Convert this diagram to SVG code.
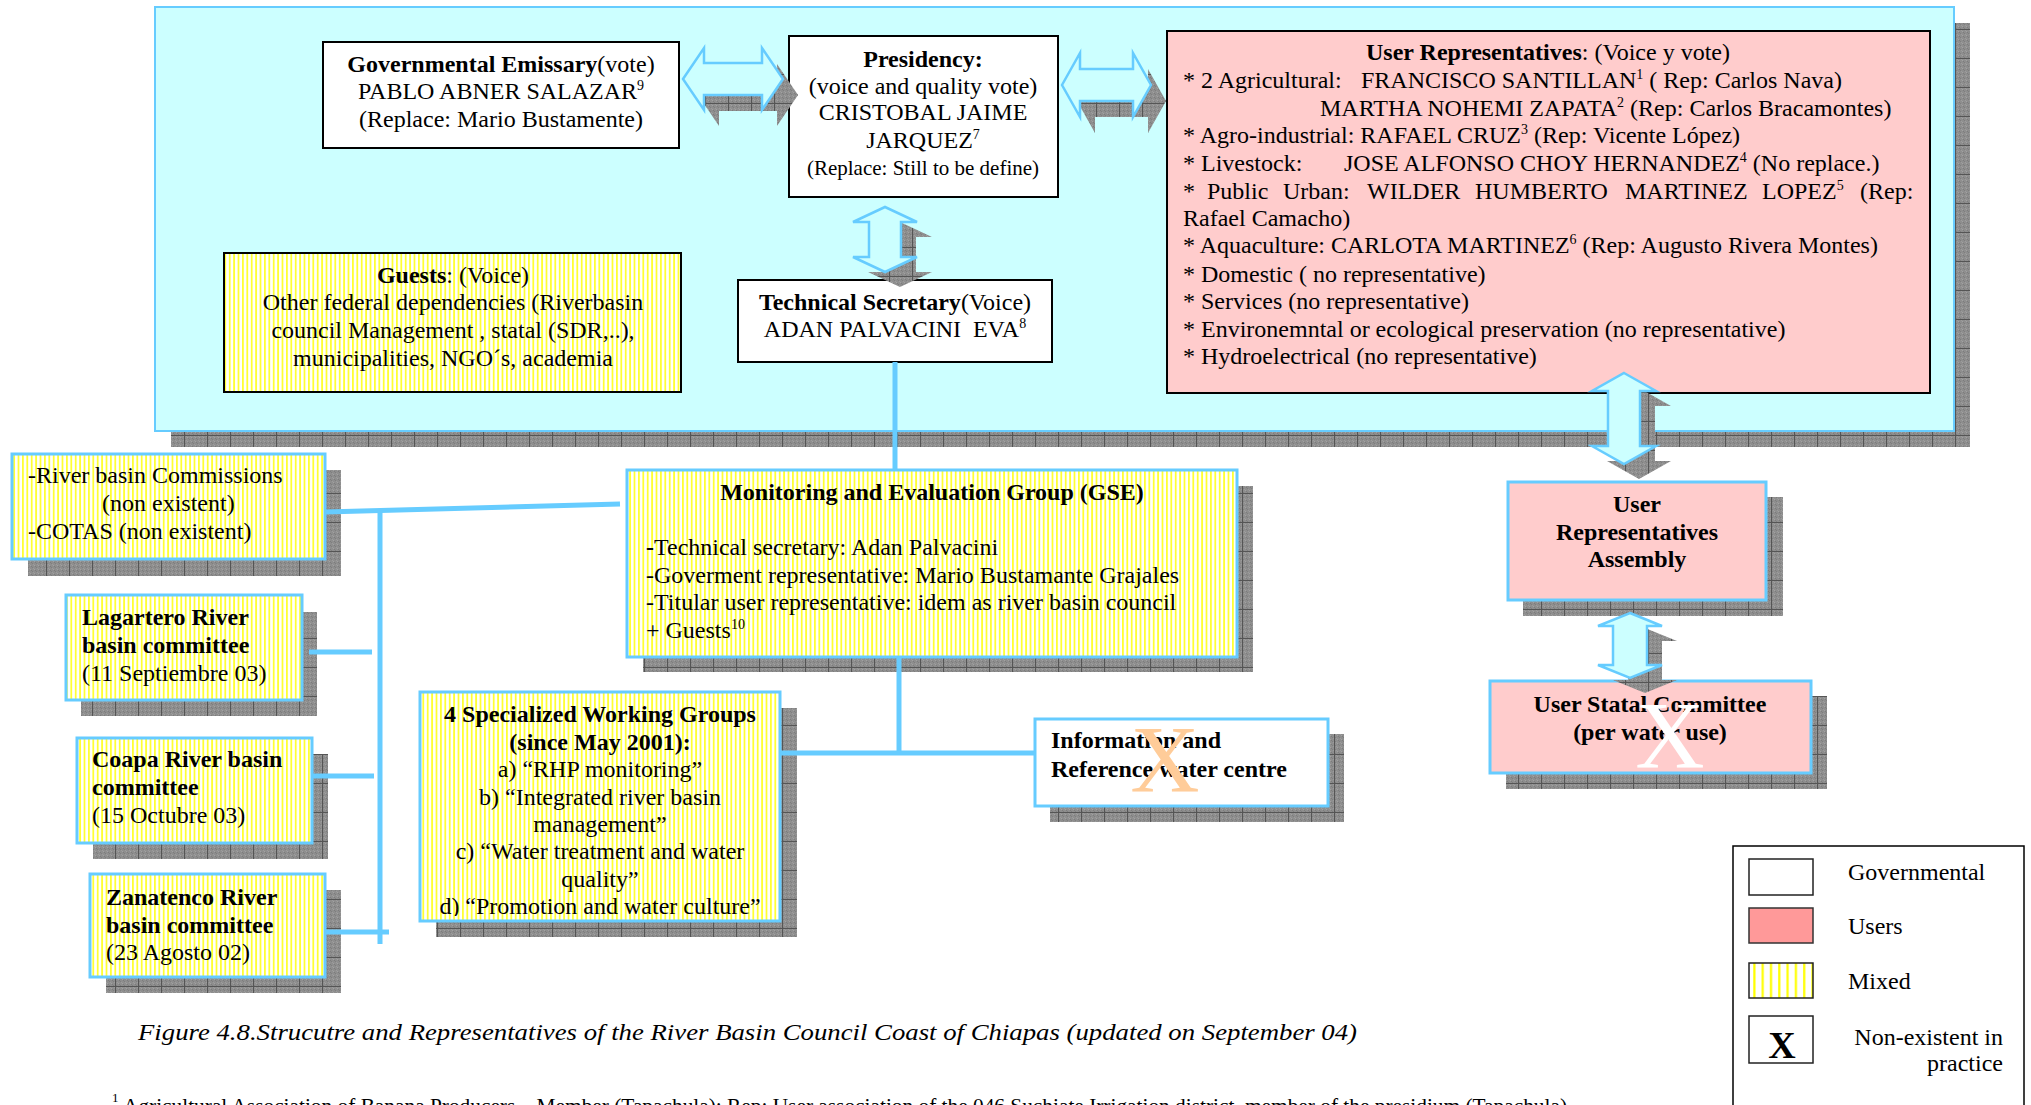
<svg xmlns="http://www.w3.org/2000/svg" width="2031" height="1105" viewBox="0 0 2031 1105">
  <defs>
    <style>
      .t { font-family: "Liberation Serif", "Times New Roman", serif; font-size: 24px; fill: #000; }
      .b { font-weight: bold; }
      .sm { font-size: 21px; }
      .sup { font-size: 14px; }
      .mid { text-anchor: middle; }
      .end { text-anchor: end; }
      .gov { fill: #fff; stroke: #000; stroke-width: 2; }
      .usr { fill: #ffcccc; stroke: #000; stroke-width: 2; }
      .mixK { fill: url(#stripes); stroke: #000; stroke-width: 2; }
      .mixB { fill: url(#stripes); stroke: #66ccff; stroke-width: 3; }
      .usrB { fill: #ffcccc; stroke: #66ccff; stroke-width: 3; }
      .govB { fill: #fff; stroke: #66ccff; stroke-width: 3; }
      .shadow { fill: url(#shade); }
      .link { fill: none; stroke: #66ccff; stroke-width: 5; }
      .blk { fill: #ccffff; stroke: #66ccff; stroke-width: 2.5; stroke-linejoin: miter; }
      .bigx { font-family: "Liberation Serif", "Times New Roman", serif; font-size: 96px; text-anchor: middle; }
    </style>
    <!-- vertical yellow hatching used for mixed bodies -->
    <pattern id="stripes" width="4.4" height="10" patternUnits="userSpaceOnUse">
      <rect width="4.4" height="10" fill="#fff"/>
      <rect width="1.8" height="10" fill="#ffff33"/>
    </pattern>
    <pattern id="stripesLg" width="8.3" height="10" patternUnits="userSpaceOnUse">
      <rect width="8.3" height="10" fill="#fff"/>
      <rect x="2" width="2.2" height="10" fill="#ffff00"/>
    </pattern>
    <!-- grainy grey drop shadow with faint tile lines -->
    <pattern id="grain" width="4" height="4" patternUnits="userSpaceOnUse">
      <rect width="4" height="4" fill="#8e8e8e"/>
      <rect x="1" y="0" width="1" height="1" fill="#7e7e7e"/>
      <rect x="3" y="2" width="1" height="1" fill="#a2a2a2"/>
      <rect x="0" y="3" width="1" height="1" fill="#7c7c7c"/>
      <rect x="2" y="1" width="1" height="1" fill="#9c9c9c"/>
    </pattern>
    <pattern id="shade" width="23" height="29" patternUnits="userSpaceOnUse">
      <rect width="23" height="29" fill="url(#grain)"/>
      <path d="M0.5 0V29M0 0.5H23" stroke="#555" stroke-width="1"/>
    </pattern>
    <clipPath id="clipA"><rect x="600" y="0" width="189" height="200"/></clipPath>
    <clipPath id="clipWG"><rect x="420" y="692" width="360" height="224"/></clipPath>
  </defs>

  <rect width="2031" height="1105" fill="#fff"/>

  <!-- council panel -->
  <g id="council-panel">
    <rect class="shadow" x="171" y="23" width="1799" height="424"/>
    <rect x="155" y="7" width="1799" height="424" fill="#ccffff" stroke="#66ccff" stroke-width="2"/>
  </g>

  <g id="gov-emissary">
    <rect class="gov" x="323" y="42" width="356" height="106"/>
    <text class="t mid" x="501" y="72"><tspan class="b">Governmental Emissary</tspan>(vote)</text>
    <text class="t mid" x="501" y="99">PABLO ABNER SALAZAR<tspan class="sup" dy="-9">9</tspan></text>
    <text class="t mid" x="501" y="127">(Replace: Mario Bustamente)</text>
  </g>

  <g id="presidency">
    <rect class="gov" x="789" y="36" width="269" height="161"/>
    <text class="t mid b" x="923" y="67">Presidency:</text>
    <text class="t mid" x="923" y="94">(voice and quality vote)</text>
    <text class="t mid" x="923" y="120">CRISTOBAL JAIME</text>
    <text class="t mid" x="923" y="148">JARQUEZ<tspan class="sup" dy="-9">7</tspan></text>
    <text class="t mid sm" x="923" y="175">(Replace: Still to be define)</text>
  </g>

  <g id="user-representatives">
    <rect class="usr" x="1167" y="31" width="763" height="362"/>
    <text class="t mid" x="1548" y="60"><tspan class="b">User Representatives</tspan>: (Voice y vote)</text>
    <text class="t" x="1183" y="88">* 2 Agricultural:<tspan x="1361">FRANCISCO SANTILLAN</tspan><tspan class="sup" dy="-9">1</tspan><tspan dy="9"> ( Rep: Carlos Nava)</tspan></text>
    <text class="t" x="1320" y="116">MARTHA NOHEMI ZAPATA<tspan class="sup" dy="-9">2</tspan><tspan dy="9"> (Rep: Carlos Bracamontes)</tspan></text>
    <text class="t" x="1183" y="143">* Agro-industrial: RAFAEL CRUZ<tspan class="sup" dy="-9">3</tspan><tspan dy="9"> (Rep: Vicente López)</tspan></text>
    <text class="t" x="1183" y="171">* Livestock:<tspan x="1344">JOSE ALFONSO CHOY HERNANDEZ</tspan><tspan class="sup" dy="-9">4</tspan><tspan dy="9"> (No replace.)</tspan></text>
    <text class="t" x="1183" y="199">*<tspan x="1207">Public</tspan><tspan x="1283">Urban:</tspan><tspan x="1367">WILDER</tspan><tspan x="1475">HUMBERTO</tspan><tspan x="1625">MARTINEZ</tspan><tspan x="1762">LOPEZ</tspan><tspan class="sup" dy="-9">5</tspan><tspan x="1860" dy="9">(Rep:</tspan></text>
    <text class="t" x="1183" y="226">Rafael Camacho)</text>
    <text class="t" x="1183" y="253">* Aquaculture: CARLOTA MARTINEZ<tspan class="sup" dy="-9">6</tspan><tspan dy="9"> (Rep: Augusto Rivera Montes)</tspan></text>
    <text class="t" x="1183" y="282">* Domestic ( no representative)</text>
    <text class="t" x="1183" y="309">* Services (no representative)</text>
    <text class="t" x="1183" y="337">* Environemntal or ecological preservation (no representative)</text>
    <text class="t" x="1183" y="364">* Hydroelectrical (no representative)</text>
  </g>

  <g id="guests">
    <rect class="mixK" x="224" y="253" width="457" height="139"/>
    <text class="t mid" x="453" y="283"><tspan class="b">Guests</tspan>: (Voice)</text>
    <text class="t mid" x="453" y="310">Other federal dependencies (Riverbasin</text>
    <text class="t mid" x="453" y="338">council Management , statal (SDR,..),</text>
    <text class="t mid" x="453" y="366">municipalities, NGO´s, academia</text>
  </g>

  <g id="technical-secretary">
    <rect class="gov" x="738" y="280" width="314" height="82"/>
    <text class="t mid" x="895" y="310"><tspan class="b">Technical Secretary</tspan>(Voice)</text>
    <text class="t mid" x="895" y="337" xml:space="preserve">ADAN PALVACINI  EVA<tspan class="sup" dy="-9">8</tspan></text>
  </g>

  <g id="river-basin-commissions">
    <rect class="shadow" x="28" y="470" width="313" height="106"/>
    <rect class="mixB" x="12" y="454" width="313" height="105"/>
    <text class="t" x="28" y="483">-River basin Commissions</text>
    <text class="t" x="102" y="511">(non existent)</text>
    <text class="t" x="28" y="539">-COTAS (non existent)</text>
  </g>

  <g id="lagartero">
    <rect class="shadow" x="81" y="612" width="236" height="104"/>
    <rect class="mixB" x="66" y="595" width="236" height="105"/>
    <text class="t b" x="82" y="625">Lagartero River</text>
    <text class="t b" x="82" y="653">basin committee</text>
    <text class="t" x="82" y="681">(11 Septiembre 03)</text>
  </g>

  <g id="coapa">
    <rect class="shadow" x="93" y="754" width="235" height="105"/>
    <rect class="mixB" x="77" y="738" width="235" height="105"/>
    <text class="t b" x="92" y="767">Coapa River basin</text>
    <text class="t b" x="92" y="795">committee</text>
    <text class="t" x="92" y="823">(15 Octubre 03)</text>
  </g>

  <g id="zanatenco">
    <rect class="shadow" x="106" y="890" width="235" height="103"/>
    <rect class="mixB" x="90" y="874" width="235" height="103"/>
    <text class="t b" x="106" y="905">Zanatenco River</text>
    <text class="t b" x="106" y="933">basin committee</text>
    <text class="t" x="106" y="960">(23 Agosto 02)</text>
  </g>

  <g id="monitoring-group">
    <rect class="shadow" x="643" y="486" width="610" height="186"/>
    <rect class="mixB" x="627" y="470" width="610" height="187"/>
    <text class="t mid b" x="932" y="500">Monitoring and Evaluation Group (GSE)</text>
    <text class="t" x="646" y="555"><tspan class="b">-</tspan>Technical secretary: Adan Palvacini</text>
    <text class="t" x="646" y="583">-Goverment representative: Mario Bustamante Grajales</text>
    <text class="t" x="646" y="610">-Titular user representative: idem as river basin council</text>
    <text class="t" x="646" y="638">+ Guests<tspan class="sup" dy="-9">10</tspan></text>
  </g>

  <g id="working-groups">
    <rect class="shadow" x="436" y="708" width="361" height="229"/>
    <rect class="mixB" x="420" y="692" width="360" height="229"/>
    <g clip-path="url(#clipWG)">
      <text class="t mid b" x="600" y="722">4 Specialized Working Groups</text>
      <text class="t mid b" x="600" y="750">(since May 2001):</text>
      <text class="t mid" x="600" y="777">a) “RHP monitoring”</text>
      <text class="t mid" x="600" y="805">b) “Integrated river basin</text>
      <text class="t mid" x="600" y="832">management”</text>
      <text class="t mid" x="600" y="859">c) “Water treatment and water</text>
      <text class="t mid" x="600" y="887">quality”</text>
      <text class="t mid" x="600" y="914">d) “Promotion and water culture”</text>
    </g>
  </g>

  <g id="information-centre">
    <rect class="shadow" x="1050" y="734" width="294" height="88"/>
    <rect class="govB" x="1035" y="719" width="293" height="87"/>
    <text class="t b" x="1051" y="748">Information and</text>
    <text class="t b" x="1051" y="777">Reference water centre</text>
    <text class="bigx" x="1165" y="792" fill="#ffcc99">X</text>
  </g>

  <g id="user-assembly">
    <rect class="shadow" x="1523" y="497" width="260" height="119"/>
    <rect class="usrB" x="1508" y="482" width="258" height="118"/>
    <text class="t mid b" x="1637" y="512">User</text>
    <text class="t mid b" x="1637" y="540">Representatives</text>
    <text class="t mid b" x="1637" y="567">Assembly</text>
  </g>

  <g id="user-statal-committee">
    <rect class="shadow" x="1506" y="696" width="321" height="93"/>
    <rect class="usrB" x="1490" y="681" width="321" height="92"/>
    <text class="t mid b" x="1650" y="712">User Statal Committee</text>
    <text class="t mid b" x="1650" y="740">(per water use)</text>
    <text class="bigx" x="1670" y="768" fill="#fff">X</text>
  </g>

  <g id="legend">
    <rect x="1733" y="846" width="291" height="275" fill="#fff" stroke="#000" stroke-width="1.5"/>
    <rect x="1749" y="859" width="64" height="36" fill="#fff" stroke="#222" stroke-width="1.5"/>
    <text class="t" x="1848" y="880">Governmental</text>
    <rect x="1749" y="908" width="64" height="35" fill="#ff9999" stroke="#333" stroke-width="1.5"/>
    <text class="t" x="1848" y="934">Users</text>
    <rect x="1749" y="963" width="64" height="35" fill="url(#stripesLg)" stroke="#222" stroke-width="1.5"/>
    <text class="t" x="1848" y="989">Mixed</text>
    <rect x="1749" y="1016" width="64" height="47" fill="#fff" stroke="#222" stroke-width="1.5"/>
    <text class="t mid b" x="1782" y="1058" style="font-size:38px">X</text>
    <text class="t end" x="2003" y="1045">Non-existent in</text>
    <text class="t end" x="2003" y="1071">practice</text>
  </g>

  <g id="caption">
    <text class="t" x="138" y="1040" font-style="italic" textLength="1219" lengthAdjust="spacingAndGlyphs">Figure 4.8.Strucutre and Representatives of the River Basin Council Coast of Chiapas (updated on September 04)</text>
    <text class="t" x="112" y="1102" style="font-size:13px">1</text>
    <text class="t" x="123" y="1113" style="font-size:20px" textLength="1444" lengthAdjust="spacingAndGlyphs">Agricultural Association of Banana Producers – Member (Tapachula); Rep: User association of the 046 Suchiate Irrigation district, member of the presidium (Tapachula)</text>
  </g>

  <!-- connectors: plain links and shadowed double block arrows -->
  <g id="connectors">
    <path class="link" d="M895 362V470"/>
    <path class="link" d="M325 512L620 504"/>
    <path class="link" d="M380 510V944"/>
    <path class="link" d="M309 652H372"/>
    <path class="link" d="M312 776H374"/>
    <path class="link" d="M325 932H389"/>
    <path class="link" d="M899 657V753"/>
    <path class="link" d="M780 753H1035"/>

    <g id="arrow-gov-pres">
      <polygon class="shadow" clip-path="url(#clipA)" transform="translate(15 16)" points="683,79 704,48 704,63 762,63 762,48 783,79 762,110 762,95 704,95 704,110"/>
      <polygon class="blk" points="683,79 704,48 704,63 762,63 762,48 783,79 762,110 762,95 704,95 704,110"/>
    </g>
    <g id="arrow-pres-users">
      <polygon class="shadow" transform="translate(15 16)" points="1062,85 1080,53 1080,69 1133,69 1133,53 1151,85 1133,117 1133,101 1080,101 1080,117"/>
      <polygon class="blk" points="1062,85 1080,53 1080,69 1133,69 1133,53 1151,85 1133,117 1133,101 1080,101 1080,117"/>
    </g>
    <g id="arrow-pres-tech">
      <polygon class="shadow" transform="translate(15 15)" points="885,207 917,222 901,222 901,257 917,257 885,272 853,257 869,257 869,222 853,222"/>
      <polygon class="blk" points="885,207 917,222 901,222 901,257 917,257 885,272 853,257 869,257 869,222 853,222"/>
    </g>
    <g id="arrow-users-assembly">
      <polygon class="shadow" transform="translate(15 15)" points="1624,373 1656,391 1640,391 1640,446 1656,446 1624,464 1592,446 1608,446 1608,391 1592,391"/>
      <polygon class="blk" points="1624,373 1656,391 1640,391 1640,446 1656,446 1624,464 1592,446 1608,446 1608,391 1592,391"/>
    </g>
    <g id="arrow-assembly-statal">
      <polygon class="shadow" transform="translate(15 15)" points="1630,613 1662,626 1647,626 1647,665 1662,665 1630,678 1598,665 1613,665 1613,626 1598,626"/>
      <polygon class="blk" points="1630,613 1662,626 1647,626 1647,665 1662,665 1630,678 1598,665 1613,665 1613,626 1598,626"/>
    </g>
  </g>
</svg>
